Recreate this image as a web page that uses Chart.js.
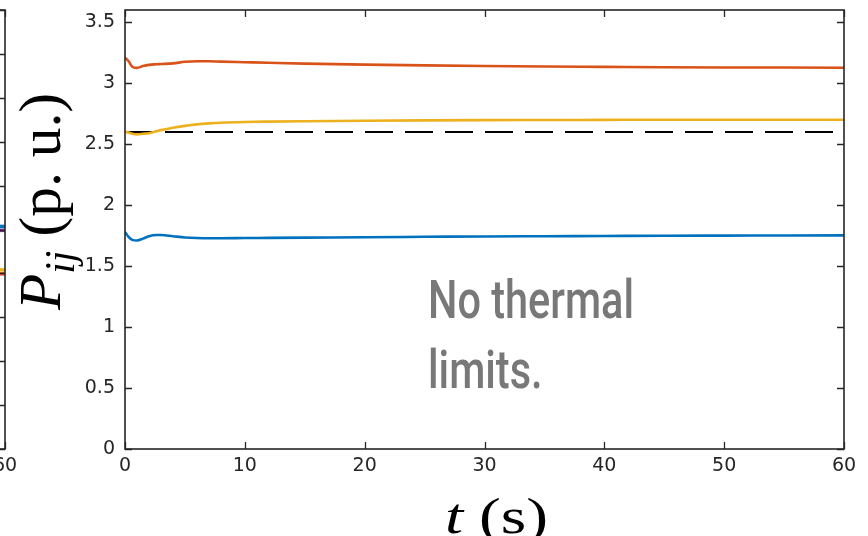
<!DOCTYPE html>
<html><head><meta charset="utf-8">
<script src="https://cdn.jsdelivr.net/npm/chart.js@4.4.1/dist/chart.umd.min.js"></script>
<style>
html,body{margin:0;padding:0;background:#fff;}
#wrap{position:relative;width:868px;height:536px;overflow:hidden;background:#fff;}
#left{position:absolute;left:-376px;top:0;}
#main{position:absolute;left:0;top:0;}
</style></head><body>
<div id="wrap"><canvas id="left" width="400" height="536"></canvas><canvas id="main" width="868" height="536"></canvas></div>
<script>
// ---- main panel data ----
const t          = [0, 0.3, 0.6, 1, 1.5, 2, 2.6, 3, 4, 5, 6, 7, 8, 10, 12, 15, 20, 25, 30, 35, 40, 45, 50, 55, 60];
const flowRed    = [3.21, 3.18, 3.135, 3.125, 3.14, 3.15, 3.155, 3.157, 3.162, 3.175, 3.18, 3.18, 3.177, 3.172, 3.167, 3.16, 3.152, 3.146, 3.141, 3.137, 3.134, 3.131, 3.129, 3.128, 3.127];
const flowYellow = [2.60, 2.595, 2.585, 2.58, 2.585, 2.59, 2.605, 2.615, 2.635, 2.65, 2.662, 2.67, 2.676, 2.682, 2.685, 2.688, 2.692, 2.695, 2.697, 2.698, 2.699, 2.70, 2.70, 2.70, 2.70];
const flowBlue   = [1.78, 1.74, 1.715, 1.71, 1.725, 1.745, 1.755, 1.755, 1.745, 1.735, 1.73, 1.728, 1.728, 1.73, 1.731, 1.733, 1.737, 1.74, 1.743, 1.745, 1.747, 1.749, 1.75, 1.751, 1.752];
const limitT     = [0, 60];
const limitVal   = [2.6, 2.6];
const xTicks     = [0, 10, 20, 30, 40, 50, 60];
const yTicks     = [0, 0.5, 1, 1.5, 2, 2.5, 3, 3.5];
const noteLines  = ['No thermal', 'limits.'];
// ---- neighbouring (cut-off) panel data ----
const leftT      = [55, 60];
const leftBlue   = [5.07, 5.07];
const leftPurple = [4.98, 4.98];
const leftYellow = [4.08, 4.08];
const leftOrange = [3.99, 3.99];
const leftXTicks = [0, 10, 20, 30, 40, 50, 60];
const leftYTicks = [0, 1, 2, 3, 4, 5, 6, 7, 8, 9, 10];

const pts = (xs, ys) => xs.map((v, i) => ({x: v, y: ys[i]}));
const AX = '#262626';
const TICKFONT = {family: 'DejaVu Sans', size: 19};

const boxPlugin = {
  id: 'matlabBox',
  afterDraw(chart) {
    const {ctx, chartArea: a, scales} = chart;
    const x = scales.x, y = scales.y, L = 7;
    ctx.save();
    ctx.strokeStyle = AX; ctx.lineWidth = 1.3;
    ctx.beginPath();
    x.ticks.forEach(tk => {
      const px = Math.round(x.getPixelForValue(tk.value)) + 0.5;
      ctx.moveTo(px, a.bottom); ctx.lineTo(px, a.bottom - L);
      ctx.moveTo(px, a.top); ctx.lineTo(px, a.top + L);
    });
    y.ticks.forEach(tk => {
      const py = Math.round(y.getPixelForValue(tk.value)) + 0.5;
      ctx.moveTo(a.left, py); ctx.lineTo(a.left + L, py);
      ctx.moveTo(a.right, py); ctx.lineTo(a.right - L, py);
    });
    ctx.stroke();
    ctx.lineWidth = 1.6;
    ctx.strokeRect(a.left, a.top, a.right - a.left, a.bottom - a.top);
    ctx.restore();
  }
};

const labelPlugin = {
  id: 'labels',
  afterDraw(chart) {
    const ctx = chart.ctx;
    ctx.save();
    ctx.fillStyle = '#000';
    ctx.textBaseline = 'alphabetic';
    ctx.textAlign = 'left';
    const SERIF = '"Liberation Serif", "Times New Roman", serif';
    // ---- y label: P_ij (p. u.) ----
    {
      const F = 50, FS = 35, gap = 12;
      ctx.font = `italic ${F}px ${SERIF}`; const wP = ctx.measureText('P').width;
      ctx.font = `italic ${FS}px ${SERIF}`; const wS = ctx.measureText('ij').width;
      ctx.font = `${F}px ${SERIF}`; const wR = ctx.measureText('(p. u.)').width;
      const W = wP + wS + gap + wR;
      const s = 217 / W;
      ctx.save();
      ctx.translate(60, 310);
      ctx.rotate(-Math.PI / 2);
      ctx.scale(s, 1.2);
      ctx.font = `italic ${F}px ${SERIF}`; ctx.fillText('P', 0, 0);
      ctx.font = `italic ${FS}px ${SERIF}`; ctx.fillText('ij', wP, 12);
      ctx.font = `${F}px ${SERIF}`; ctx.fillText('(p. u.)', wP + wS + gap, 0);
      ctx.restore();
    }
    // ---- x label: t (s) ----
    {
      const F = 50, gap = 12;
      ctx.font = `italic ${F}px ${SERIF}`; const wT = ctx.measureText('t').width;
      ctx.font = `${F}px ${SERIF}`; const wR = ctx.measureText('(s)').width;
      const s = 103 / (wT + gap + wR);
      ctx.save();
      ctx.translate(445, 533);
      ctx.scale(s, 1);
      ctx.font = `italic ${F}px ${SERIF}`; ctx.fillText('t', 0, 0);
      ctx.font = `${F}px ${SERIF}`; ctx.fillText('(s)', wT + gap, 0);
      ctx.restore();
    }
    // ---- annotation ----
    {
      ctx.font = '500 53px Roboto, "Open Sans", sans-serif';
      ctx.fillStyle = 'rgb(120,120,120)';
      const s = 206 / ctx.measureText(noteLines[0]).width;
      ctx.save();
      ctx.translate(428, 0);
      ctx.scale(s, 1);
      ctx.fillText(noteLines[0], 0, 318);
      ctx.fillText(noteLines[1], 0, 388);
      ctx.restore();
    }
    ctx.restore();
  }
};

const lineDs = (data, color, extra) => Object.assign({
  data, borderColor: color, backgroundColor: color, borderWidth: 2.6,
  pointRadius: 0, fill: false, cubicInterpolationMode: 'monotone'
}, extra || {});

const noPadY = s => { s.paddingTop = 0; s.paddingBottom = 0; };
const noPadX = s => { s.paddingLeft = 0; s.paddingRight = 0; };

new Chart(document.getElementById('main'), {
  type: 'line',
  data: {
    datasets: [
      lineDs(pts(t, flowBlue), '#0072BD'),
      lineDs(pts(t, flowRed), '#D95319'),
      lineDs(pts(t, flowYellow), '#EDB120'),
      lineDs(pts(limitT, limitVal), '#000000', {borderWidth: 2, borderDash: [28, 12], cubicInterpolationMode: 'default', tension: 0})
    ]
  },
  options: {
    responsive: false, animation: false, devicePixelRatio: 1,
    layout: {padding: {left: 0, right: 24, top: 10, bottom: 0}},
    plugins: {legend: {display: false}, tooltip: {enabled: false}},
    scales: {
      x: {
        type: 'linear', min: 0, max: 60,
        afterFit(s) { s.height = 87; noPadX(s); },
        afterBuildTicks(s) { s.ticks = xTicks.map(v => ({value: v})); },
        grid: {display: false, drawTicks: false}, border: {display: false},
        ticks: {font: TICKFONT, color: AX, padding: 6, maxRotation: 0, autoSkip: false, callback: v => String(v)}
      },
      y: {
        type: 'linear', min: 0, max: 3.6,
        afterFit(s) { s.width = 125; noPadY(s); },
        afterBuildTicks(s) { s.ticks = yTicks.map(v => ({value: v})); },
        grid: {display: false, drawTicks: false}, border: {display: false},
        ticks: {font: TICKFONT, color: AX, padding: 10, autoSkip: false, callback: v => String(v)}
      }
    }
  },
  plugins: [boxPlugin, labelPlugin]
});

new Chart(document.getElementById('left'), {
  type: 'line',
  data: {
    datasets: [
      lineDs(pts(leftT, leftBlue), '#0072BD', {borderWidth: 3.5}),
      lineDs(pts(leftT, leftPurple), '#7E2F8E', {borderWidth: 3.5}),
      lineDs(pts(leftT, leftYellow), '#EDB120', {borderWidth: 3.5}),
      lineDs(pts(leftT, leftOrange), '#D95319', {borderWidth: 3.5})
    ]
  },
  options: {
    responsive: false, animation: false, devicePixelRatio: 1,
    layout: {padding: {left: 0, right: 19, top: 10, bottom: 0}},
    plugins: {legend: {display: false}, tooltip: {enabled: false}},
    scales: {
      x: {
        type: 'linear', min: 0, max: 60,
        afterFit(s) { s.height = 87; noPadX(s); },
        afterBuildTicks(s) { s.ticks = leftXTicks.map(v => ({value: v})); },
        grid: {display: false, drawTicks: false}, border: {display: false},
        ticks: {font: TICKFONT, color: AX, padding: 6, maxRotation: 0, autoSkip: false, callback: v => String(v)}
      },
      y: {
        type: 'linear', min: 0, max: 10,
        afterFit(s) { s.width = 40; noPadY(s); },
        afterBuildTicks(s) { s.ticks = leftYTicks.map(v => ({value: v})); },
        grid: {display: false, drawTicks: false}, border: {display: false},
        ticks: {display: false}
      }
    }
  },
  plugins: [boxPlugin]
});
</script>
</body></html>
